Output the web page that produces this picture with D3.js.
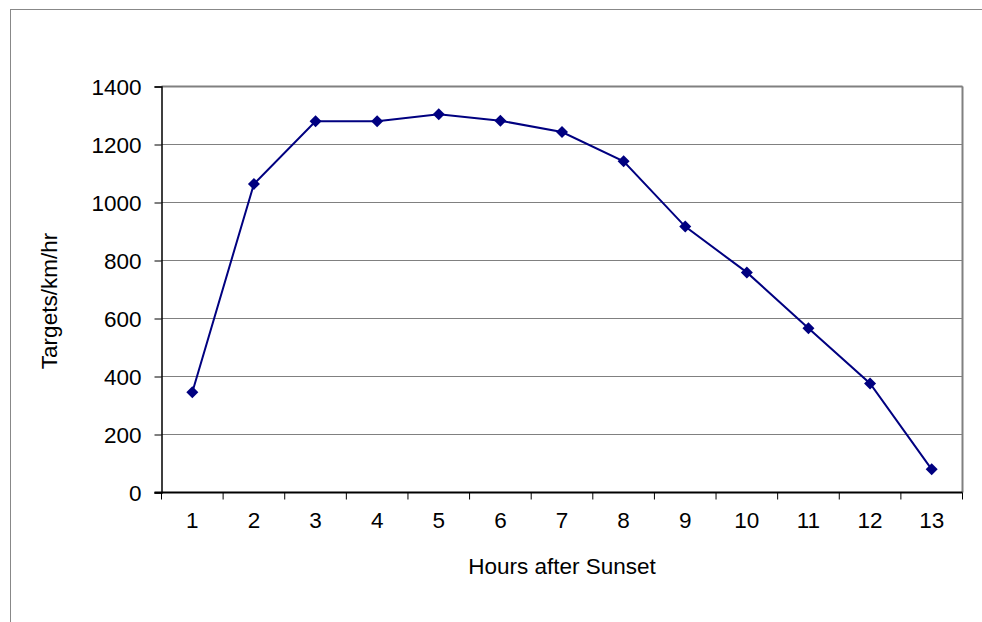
<!DOCTYPE html>
<html><head><meta charset="utf-8">
<script src="https://cdn.jsdelivr.net/npm/d3@7"></script>
<style>body{margin:0;background:#fff;}svg{display:block;}text{font-family:"Liberation Sans",Arial,sans-serif;fill:#000;}</style>
</head><body>
<svg id="c" width="982" height="622"></svg>
<script>
const categories = ["1","2","3","4","5","6","7","8","9","10","11","12","13"];
const values = [346, 1064, 1280, 1280, 1304, 1282, 1243, 1142, 917, 759, 566, 376, 80];
const yTicks = [0, 200, 400, 600, 800, 1000, 1200, 1400];
const xTitle = "Hours after Sunset";
const yTitle = "Targets/km/hr";

const FS = 22.5;
const svg = d3.select("#c");
const L = 161.5, R = 962.5, T = 86.5, B = 492.5;

svg.append("rect").attr("x", 10.5).attr("y", 9.5).attr("width", 990).attr("height", 640)
  .attr("fill", "#fff").attr("stroke", "#888").attr("stroke-width", 1);

const x = d3.scaleBand().domain(categories).range([L, R]).padding(0);
const y = d3.scaleLinear().domain([0, 1400]).range([B, T]);

// gridlines
svg.append("g").selectAll("line").data(yTicks.filter(d => d > 0)).join("line")
  .attr("x1", L).attr("x2", R).attr("y1", d => y(d)).attr("y2", d => y(d))
  .attr("stroke", "#808080").attr("stroke-width", 1);

// right and top border
svg.append("line").attr("x1", R).attr("x2", R).attr("y1", T).attr("y2", B).attr("stroke", "#808080").attr("stroke-width", 2);
svg.append("line").attr("x1", L).attr("x2", R).attr("y1", T).attr("y2", T).attr("stroke", "#808080").attr("stroke-width", 2);

// y axis
const yAxis = svg.append("g").attr("transform", `translate(${L},0)`)
  .call(d3.axisLeft(y).tickValues(yTicks).tickFormat(d3.format("d")).tickSize(7).tickPadding(13));
yAxis.attr("font-size", FS).attr("font-family", null);
yAxis.select(".domain").attr("stroke", "#000").attr("stroke-width", 1.5);
yAxis.selectAll(".tick line").attr("stroke", "#000");
yAxis.selectAll(".tick text").attr("font-size", FS).attr("dy", "0.36em");

// x axis
const xAxis = svg.append("g").attr("transform", `translate(0,${B})`);
xAxis.append("line").attr("x1", L - 7).attr("x2", R).attr("y1", 0).attr("y2", 0).attr("stroke", "#000").attr("stroke-width", 2);
const bounds = categories.map(c => x(c)).concat([x(categories[categories.length-1]) + x.bandwidth()]);
xAxis.selectAll("line.tk").data(bounds).join("line").attr("class", "tk")
  .attr("x1", d => d).attr("x2", d => d).attr("y1", 0).attr("y2", 7).attr("stroke", "#000");
xAxis.selectAll("text").data(categories).join("text")
  .attr("x", d => x(d) + x.bandwidth() / 2).attr("y", 35).attr("text-anchor", "middle")
  .attr("font-size", FS).text(d => d);

// line
const line = d3.line().x((d, i) => x(categories[i]) + x.bandwidth() / 2).y(d => y(d));
svg.append("path").datum(values).attr("d", line).attr("fill", "none")
  .attr("stroke", "#000080").attr("stroke-width", 2);

// markers
svg.append("g").selectAll("path").data(values).join("path")
  .attr("transform", (d, i) => `translate(${x(categories[i]) + x.bandwidth() / 2},${y(d)})`)
  .attr("d", "M0,-6L6,0L0,6L-6,0Z").attr("fill", "#000080");

// titles
svg.append("text").attr("x", (L + R) / 2).attr("y", 574).attr("text-anchor", "middle")
  .attr("font-size", FS).text(xTitle);
svg.append("text").attr("transform", `translate(57,301) rotate(-90)`)
  .attr("text-anchor", "middle").attr("font-size", FS).text(yTitle);
</script>
</body></html>
